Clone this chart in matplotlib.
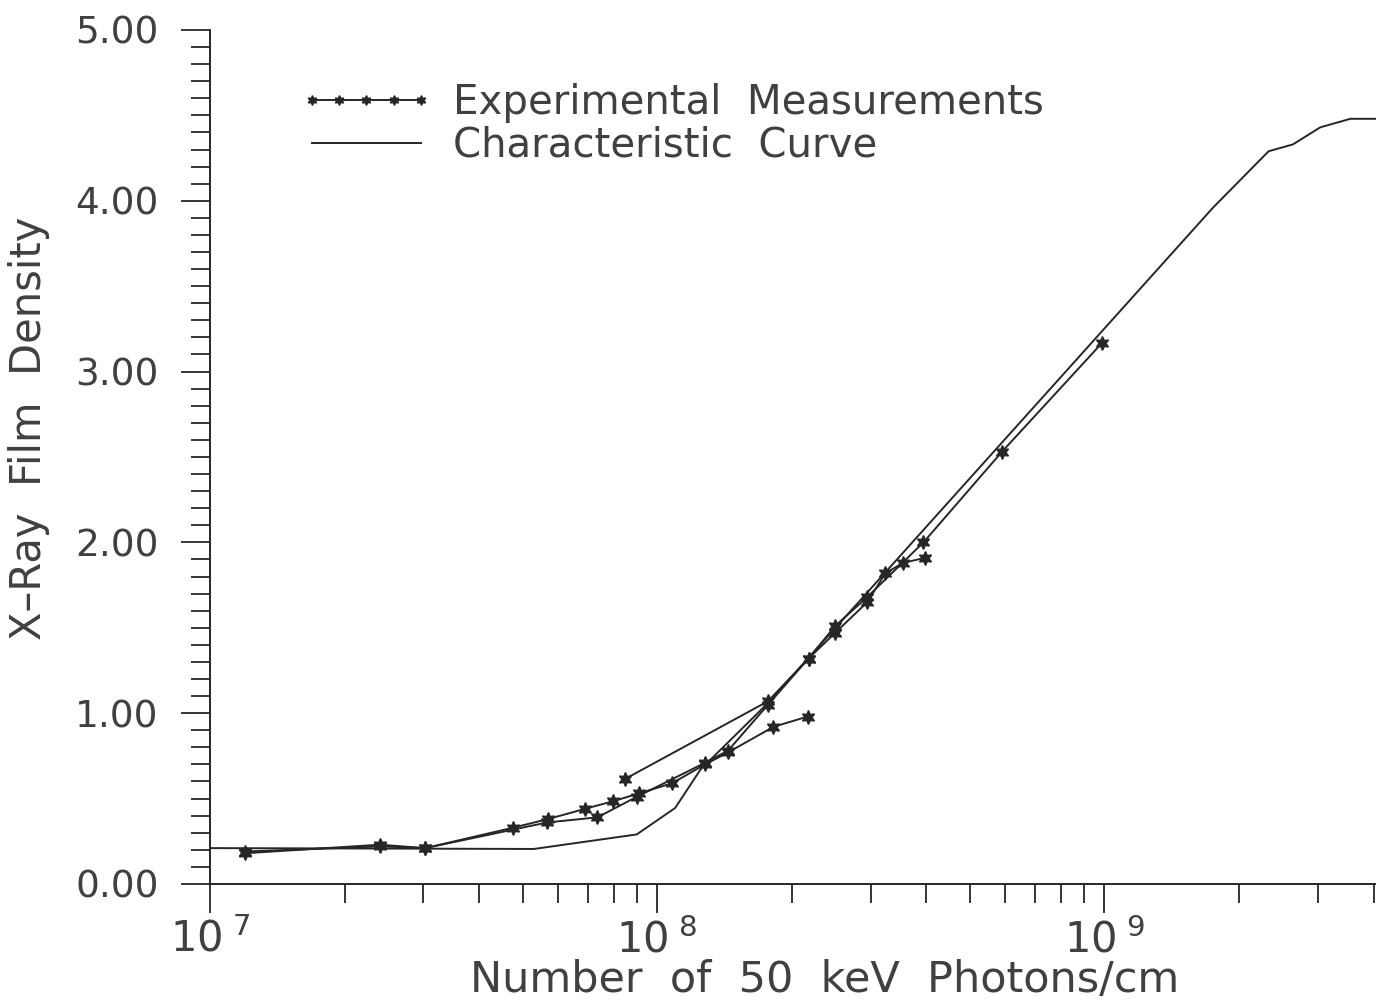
import numpy as np
import matplotlib.pyplot as plt
from matplotlib.ticker import FixedLocator, NullFormatter, LogLocator

# characteristic curve (density vs photons/cm)
curve_n = [1.0e7, 5.3e7, 9.0e7, 1.097e8, 1.25e8, 1.77e8, 1.75e9, 2.33e9, 2.64e9, 3.04e9, 3.55e9, 4.05e9]
curve_d = [0.21, 0.205, 0.29, 0.445, 0.67, 1.06, 3.96, 4.29, 4.33, 4.43, 4.48, 4.48]

# experimental runs
run1_n = [1.2e7, 2.4e7, 3.03e7, 4.77e7, 5.7e7, 6.9e7, 7.98e7, 9.1e7, 1.08e8, 1.28e8, 1.44e8, 1.82e8, 2.17e8]
run1_d = [0.18, 0.23, 0.21, 0.33, 0.38, 0.44, 0.485, 0.53, 0.59, 0.70, 0.77, 0.92, 0.98]

run2_n = [1.2e7, 2.4e7, 3.03e7, 5.67e7, 7.35e7, 9.0e7, 1.28e8, 1.44e8, 1.77e8, 2.18e8, 2.5e8, 2.95e8, 3.24e8, 3.55e8, 3.98e8]
run2_d = [0.19, 0.22, 0.21, 0.36, 0.39, 0.51, 0.71, 0.78, 1.05, 1.32, 1.47, 1.65, 1.82, 1.88, 1.91]

run3_n = [8.48e7, 1.77e8, 2.18e8, 2.5e8, 2.95e8, 3.94e8, 5.9e8, 9.9e8]
run3_d = [0.615, 1.07, 1.32, 1.51, 1.68, 2.00, 2.53, 3.17]

ink = '#262626'
txt = '#404040'
star = (6, 1, 0)

fig = plt.figure(figsize=(13.76, 10.06), dpi=100)
ax = fig.add_axes([0.1526, 0.1213, 0.8474, 0.8489])

ax.plot(run1_n, run1_d, color=ink, lw=1.4, marker=star, ms=10, mec=ink, mfc=ink,
        label='Experimental  Measurements')
ax.plot(run2_n, run2_d, color=ink, lw=1.4, marker=star, ms=10, mec=ink, mfc=ink)
ax.plot(run3_n, run3_d, color=ink, lw=1.4, marker=star, ms=10, mec=ink, mfc=ink)
ax.plot(curve_n, curve_d, color=ink, lw=1.4, label='Characteristic  Curve')

ax.set_xscale('log')
ax.set_xlim(1e7, 4.05e9)
ax.set_ylim(0, 5)

ax.spines['top'].set_visible(False)
ax.spines['right'].set_visible(False)
for s in ['left', 'bottom']:
    ax.spines[s].set_color(ink)
    ax.spines[s].set_linewidth(1.4)

ax.set_yticks([0, 1, 2, 3, 4, 5])
ax.set_yticklabels(['0.00', '1.00', '2.00', '3.00', '4.00', '5.00'])
ax.yaxis.set_minor_locator(FixedLocator(np.arange(0, 5.01, 0.1)))
ax.set_xticks([1e7, 1e8, 1e9])
ax.set_xticklabels([r'10$^{\ 7}$', r'10$^{\ 8}$', r'10$^{\ 9}$'])
ax.xaxis.set_minor_locator(LogLocator(base=10, subs=np.arange(2, 10)))
ax.xaxis.set_minor_formatter(NullFormatter())

ax.tick_params(which='major', length=21, width=1.3, color=ink, labelcolor=txt)
ax.tick_params(which='minor', length=14, width=1.3, color=ink)
ax.tick_params(axis='y', which='major', pad=16, labelsize=27)
ax.tick_params(axis='x', which='major', pad=4, labelsize=30)

ax.set_xlabel('Number  of  50  keV  Photons/cm', fontsize=31, color=txt)
ax.xaxis.set_label_coords(0.527, -0.088)
ax.xaxis.label.set_va('top')
ax.set_ylabel('X\u2013Ray  Film  Density', fontsize=30, color=txt)
ax.yaxis.set_label_coords(-0.137, 0.534)

leg = ax.legend(loc='upper left', bbox_to_anchor=(0.046, 0.98), frameon=False,
                numpoints=5, handlelength=3.3, fontsize=29, labelcolor=txt,
                handletextpad=0.5, labelspacing=0.06)
for h in leg.legend_handles:
    h.set_markersize(7)

fig.savefig('out.png', dpi=100)
